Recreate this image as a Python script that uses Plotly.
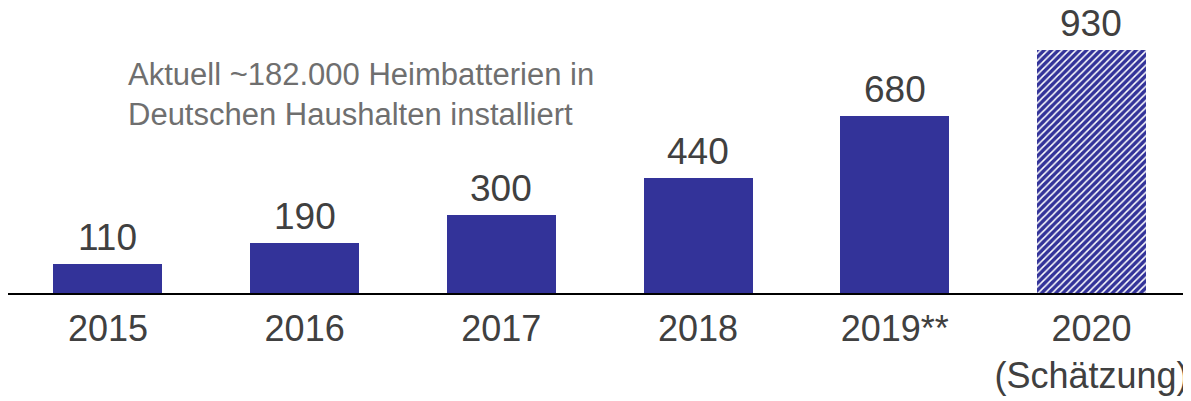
import plotly.graph_objects as go

years = ["2015", "2016", "2017", "2018", "2019**", "2020<br>(Schätzung)"]
werte = [110, 190, 300, 440, 680, 930]
geschaetzt = [False, False, False, False, False, True]

blau = "#333399"
grau = "#404040"
schrift = "Liberation Sans, Arial, sans-serif"

fig = go.Figure()

# Balken: echte Werte voll, Schätzung schraffiert
fig.add_trace(go.Bar(
    x=list(range(len(years))),
    y=werte,
    width=0.554,
    marker=dict(
        color=blau,
        line=dict(width=0),
        pattern=dict(
            shape=["/" if g else "" for g in geschaetzt],
            fgcolor="white",
            bgcolor=blau,
            size=5,
            solidity=0.3,
            fillmode="replace",
        ),
    ),
    hoverinfo="skip",
))

# Werte über den Balken
for i, v in enumerate(werte):
    fig.add_annotation(x=i, y=v, text=str(v), showarrow=False,
                       yanchor="bottom", yshift=4,
                       font=dict(family=schrift, size=37, color=grau))

fig.add_annotation(
    x=0.092, y=762, xref="x", yref="y",
    text="Aktuell ~182.000 Heimbatterien in<br>Deutschen Haushalten installiert",
    showarrow=False, xanchor="left", yanchor="middle", align="left",
    font=dict(family=schrift, size=31, color="#6f6f6f"),
)

fig.update_xaxes(
    range=[-0.508, 5.506],
    tickvals=list(range(len(years))),
    ticktext=years,
    tickfont=dict(family=schrift, size=36, color=grau),
    showline=True, linecolor="black", linewidth=2,
    showgrid=False, zeroline=False,
    ticks="", ticklabelstandoff=3,
    ticklabeloverflow="allow",
)
fig.update_yaxes(range=[0, 1092], visible=False)

# die Seite hat 8px Rand, daher Figur etwas kleiner
fig.update_layout(
    width=1183, height=393,
    margin=dict(l=0, r=0, t=0, b=108),
    plot_bgcolor="white", paper_bgcolor="white",
    showlegend=False, bargap=0,
    font=dict(family=schrift),
)

fig.write_html("out.html")
